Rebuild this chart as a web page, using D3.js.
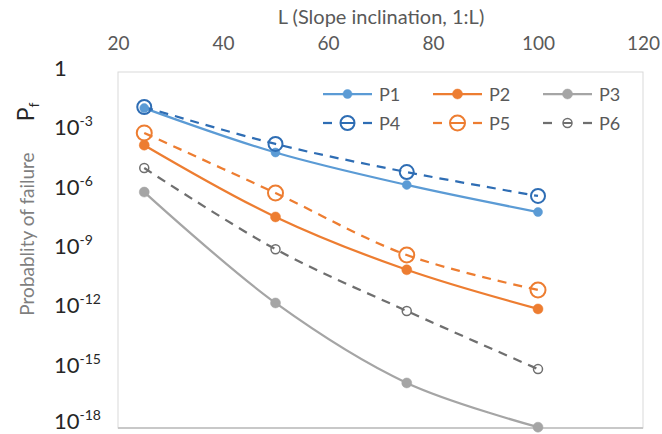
<!DOCTYPE html>
<html><head><meta charset="utf-8">
<script src="https://cdn.jsdelivr.net/npm/d3@7"></script>
<style>body{margin:0;background:#fff}svg{display:block;font-family:Lato,"Open Sans",sans-serif}</style>
</head><body>
<svg id="c" width="662" height="434"></svg>
<script>
const lValues = [25, 50, 75, 100];
const P1 = [1.5e-2, 8.5e-5, 1.95e-6, 8.3e-8];
const P2 = [2.0e-4, 4.7e-8, 1.0e-10, 1.05e-12];
const P3 = [8.5e-7, 2.1e-12, 1.9e-16, 1.1e-18];
const P4 = [1.7e-2, 2.3e-4, 8.7e-6, 5.4e-7];
const P5 = [8.3e-4, 7.6e-7, 5.6e-10, 9.5e-12];
const P6 = [1.4e-5, 1.1e-9, 8.3e-13, 9.5e-16];
const xTicks = [20, 40, 60, 80, 100, 120];
const yTickExps = [0, -3, -6, -9, -12, -15, -18];
const seriesNames = ["P1","P2","P3","P4","P5","P6"];

const series = [
  {name:"P1", values:P1, color:"#5B9BD5", dash:null, marker:"fill", r:4.5},
  {name:"P2", values:P2, color:"#ED7D31", dash:null, marker:"fill", r:5},
  {name:"P3", values:P3, color:"#A5A5A5", dash:null, marker:"fill", r:5},
  {name:"P4", values:P4, color:"#2E6DB4", dash:"9,7", marker:"open", r:7, sw:2},
  {name:"P5", values:P5, color:"#ED7D31", dash:"9,7", marker:"open", r:7.5, sw:2},
  {name:"P6", values:P6, color:"#6F6F6F", dash:"9,7", marker:"open", r:4.5, sw:1.5}
];

const svg = d3.select("#c");
const L = 118, R = 643, T = 72, B = 428;
const x = d3.scaleLinear().domain([20,120]).range([L,R]);
const y = d3.scaleLog().domain([1,1e-18]).range([T,B]);

// plot area
svg.append("rect").attr("x",L).attr("y",T).attr("width",R-L).attr("height",B-T)
  .attr("fill","#fff").attr("stroke","#D9D9D9").attr("stroke-width",1);
svg.append("line").attr("x1",L).attr("x2",R).attr("y1",B).attr("y2",B)
  .attr("stroke","#C8C8C8").attr("stroke-width",2);

// top x axis
const xAxis = d3.axisTop(x).tickValues(xTicks).tickSize(0).tickPadding(0);
const gx = svg.append("g").attr("transform","translate(0,50)").call(xAxis);
gx.select(".domain").remove();
gx.selectAll("text").attr("font-size",19).attr("fill","#595959").attr("font-family","Lato");
svg.append("text").attr("x",381).attr("y",24).attr("text-anchor","middle")
  .attr("font-size",20).attr("fill","#595959").text("L (Slope inclination, 1:L)");

// y tick labels
yTickExps.forEach(e => {
  const yy = y(Math.pow(10,e));
  const t = svg.append("text").attr("x",54).attr("y", Math.min(yy + 4, 429))
    .attr("font-size",22).attr("fill","#262626");
  if (e === 0) { t.text("1"); }
  else {
    t.append("tspan").text("10");
    t.append("tspan").attr("dy",-9).attr("font-size",14).text(String(e));
  }
});

// y title
svg.append("text").attr("transform","translate(34,234) rotate(-90)").attr("text-anchor","middle")
  .attr("font-size",19).attr("fill","#7F7F7F").text("Probablity of failure");
const pf = svg.append("text").attr("transform","translate(34,112) rotate(-90)").attr("text-anchor","middle")
  .attr("font-size",23).attr("fill","#262626");
pf.append("tspan").text("P");
pf.append("tspan").attr("dy",5).attr("font-size",14).text("f");

// lines
const line = d3.line().x(d=>x(d[0])).y(d=>y(d[1])).curve(d3.curveCatmullRom.alpha(0.5));
const order = [2,5,1,4,0,3];
order.forEach(i => {
  const s = series[i];
  const pts = lValues.map((l,j)=>[l, s.values[j]]);
  svg.append("path").attr("d", line(pts)).attr("fill","none")
    .attr("stroke", s.color).attr("stroke-width", 2.25)
    .attr("stroke-dasharray", s.dash);
});
order.forEach(i => {
  const s = series[i];
  lValues.forEach((l,j) => {
    svg.append("circle").attr("cx",x(l)).attr("cy",y(s.values[j])).attr("r",s.r)
      .attr("fill", s.marker==="fill" ? s.color : "none")
      .attr("stroke", s.color).attr("stroke-width", s.marker==="fill" ? 0.5 : s.sw);
  });
});

// legend
const lx = [323, 433, 543], ly = [94, 123];
series.forEach((s,i) => {
  const cx0 = lx[i%3], cy0 = ly[Math.floor(i/3)];
  const g = svg.append("g");
  if (s.dash) {
    g.append("line").attr("x1",cx0).attr("x2",cx0+9).attr("y1",cy0).attr("y2",cy0).attr("stroke",s.color).attr("stroke-width",2.25);
    g.append("line").attr("x1",cx0+40).attr("x2",cx0+49).attr("y1",cy0).attr("y2",cy0).attr("stroke",s.color).attr("stroke-width",2.25);
    g.append("line").attr("x1",cx0+24.5-s.r).attr("x2",cx0+24.5+s.r).attr("y1",cy0).attr("y2",cy0).attr("stroke",s.color).attr("stroke-width",2);
  } else {
    g.append("line").attr("x1",cx0).attr("x2",cx0+49).attr("y1",cy0).attr("y2",cy0).attr("stroke",s.color).attr("stroke-width",2.25);
  }
  g.append("circle").attr("cx",cx0+24.5).attr("cy",cy0).attr("r",s.r)
    .attr("fill", s.marker==="fill" ? s.color : "none")
    .attr("stroke", s.color).attr("stroke-width", s.marker==="fill" ? 0.5 : s.sw);
  g.append("text").attr("x",cx0+56).attr("y",cy0+6.5).attr("font-size",18).attr("fill","#595959").text(s.name);
});
</script>
</body></html>
